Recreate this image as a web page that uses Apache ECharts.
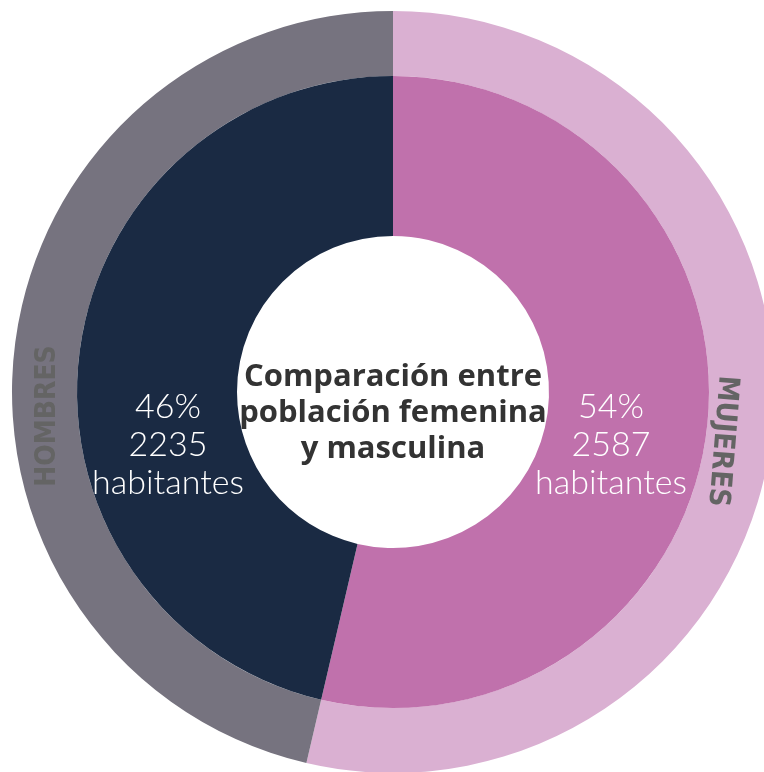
<!DOCTYPE html>
<html>
<head>
<meta charset="utf-8">
<script src="https://cdn.jsdelivr.net/npm/echarts@6/dist/echarts.min.js"></script>
<style>
  html, body { margin: 0; padding: 0; background: #fff; }
  #main { width: 764px; height: 772px; }
</style>
</head>
<body>
<div id="main"></div>
<script>
// datos
var categorias = ['MUJERES', 'HOMBRES'];
var habitantes = [2587, 2235];
var porcentajes = ['54%', '46%'];
var titulo = 'Comparación entre\npoblación femenina\ny masculina';

var coloresInterior = ['#c071ac', '#1a2a43'];
var coloresExterior = ['#dab0d2', '#76737f'];

var chart = echarts.init(document.getElementById('main'));

function datos(colores) {
    return categorias.map(function (c, i) {
        return { name: c, value: habitantes[i], itemStyle: { color: colores[i] } };
    });
}

var option = {
    backgroundColor: '#fff',
    animation: false,
    series: [
        {
            type: 'pie',
            center: [393, 392],
            radius: [316, 381],
            startAngle: 90,
            clockwise: true,
            silent: true,
            label: { show: false },
            labelLine: { show: false },
            data: datos(coloresExterior)
        },
        {
            type: 'pie',
            center: [393, 392],
            radius: [156, 316],
            startAngle: 90,
            clockwise: true,
            silent: true,
            label: { show: false },
            labelLine: { show: false },
            data: datos(coloresInterior)
        }
    ],
    graphic: [
        {
            type: 'text',
            z: 100,
            x: 393, y: 413,
            style: {
                text: titulo,
                fill: '#333333',
                font: 'bold 31px "Open Sans", sans-serif',
                lineHeight: 36,
                align: 'center',
                verticalAlign: 'middle'
            }
        },
        // etiquetas interiores
        {
            type: 'text',
            z: 100,
            x: 168, y: 445,
            style: {
                text: porcentajes[1] + '\n' + habitantes[1] + '\n' + 'habitantes',
                fill: '#ffffff',
                font: '300 34px Lato, "Open Sans", sans-serif',
                lineHeight: 38,
                align: 'center',
                verticalAlign: 'middle'
            }
        },
        {
            type: 'text',
            z: 100,
            x: 611, y: 445,
            style: {
                text: porcentajes[0] + '\n' + habitantes[0] + '\n' + 'habitantes',
                fill: '#ffffff',
                font: '300 34px Lato, "Open Sans", sans-serif',
                lineHeight: 38,
                align: 'center',
                verticalAlign: 'middle'
            }
        },
        // etiquetas del anillo exterior
        {
            type: 'text',
            z: 100,
            x: 48, y: 416,
            rotation: Math.PI / 2,
            style: {
                text: categorias[1],
                fill: '#646464',
                font: 'bold 28px "DejaVu Sans Condensed", sans-serif',
                align: 'center',
                verticalAlign: 'middle'
            }
        },
        {
            type: 'text',
            z: 100,
            x: 722, y: 441,
            rotation: -Math.PI / 2 - 0.08,
            style: {
                text: categorias[0],
                fill: '#646464',
                font: 'bold 29px "DejaVu Sans Condensed", sans-serif',
                align: 'center',
                verticalAlign: 'middle'
            }
        }
    ]
};

chart.setOption(option);
</script>
</body>
</html>
